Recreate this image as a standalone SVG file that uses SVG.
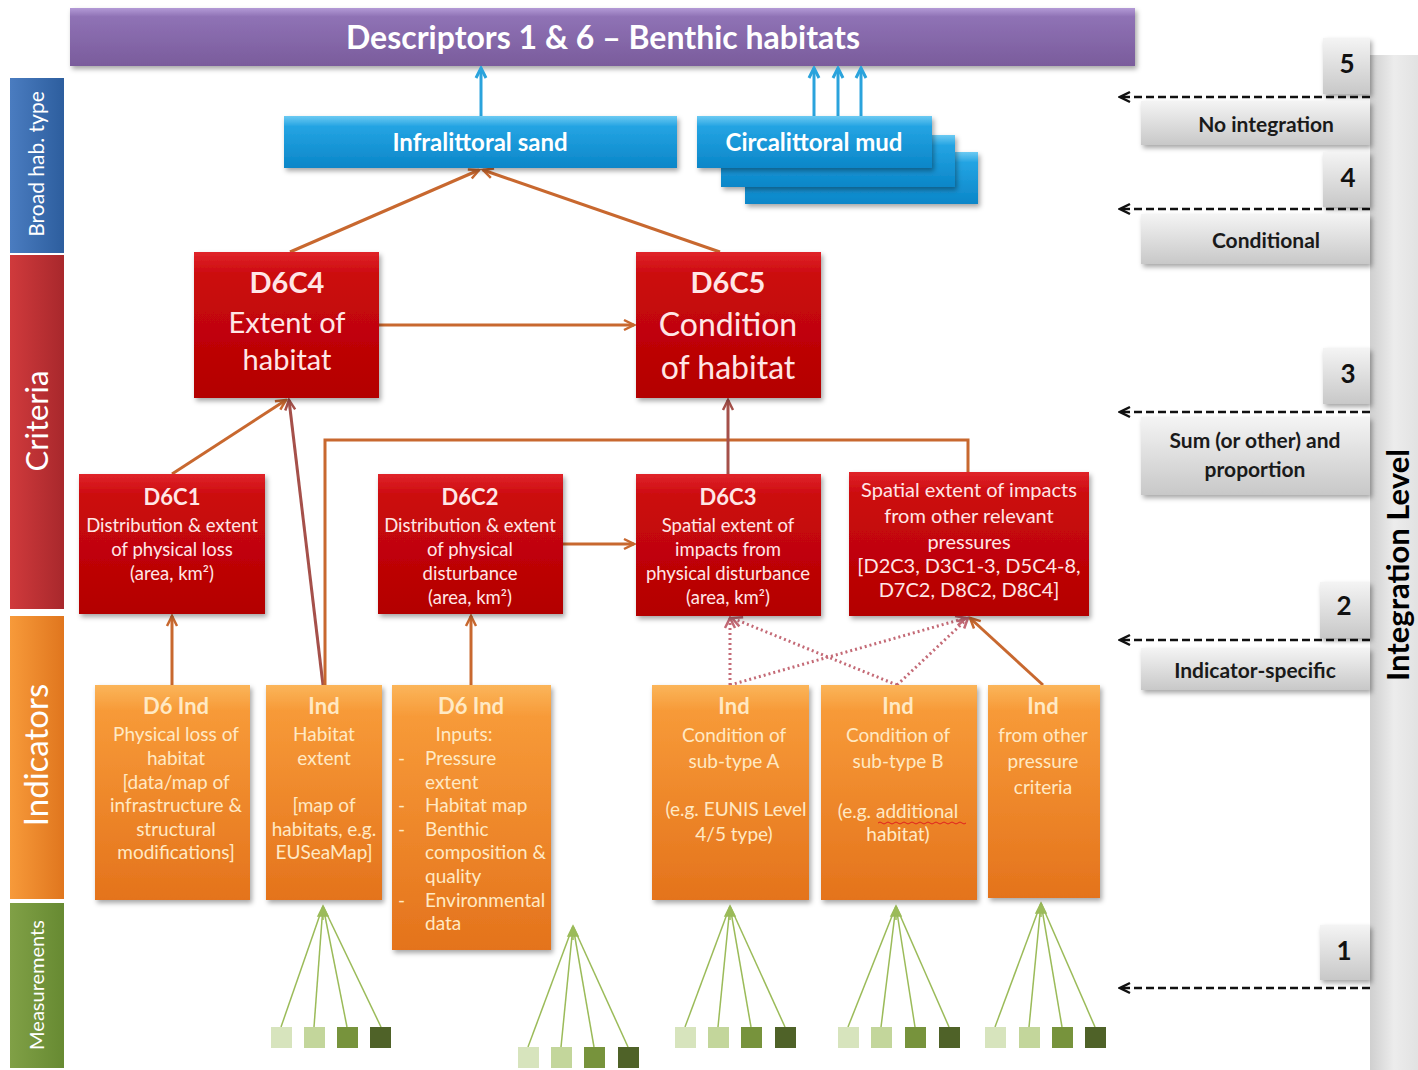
<svg xmlns="http://www.w3.org/2000/svg" width="1418" height="1070" viewBox="0 0 1418 1070">
<defs>
<style>
text{font-family:Lato,"Liberation Sans","DejaVu Sans",sans-serif}
.side{fill:#ffffff;text-anchor:middle}
.rt{fill:#ffe6e6;text-anchor:middle;font-size:18.5px}
.rt2{fill:#ffe6e6;text-anchor:middle;font-size:20px}
.rh{fill:#ffe6e6;text-anchor:middle;font-size:22px;font-weight:bold}
.ot{fill:#ffe9c4;text-anchor:middle;font-size:19px}
.oh{fill:#ffe9c4;text-anchor:middle;font-size:22px;font-weight:bold}
.ol{fill:#ffe9c4;text-anchor:start;font-size:19px}
.big{fill:#ffe6e6;text-anchor:middle;font-size:29px}
.big2{fill:#ffe6e6;text-anchor:middle;font-size:32px}
.bigh{fill:#ffe6e6;text-anchor:middle;font-size:29px;font-weight:bold}
.bt{fill:#ffffff;text-anchor:middle;font-size:24px;font-weight:bold}
.gt{fill:#1a1a1a;text-anchor:middle;font-size:21px;font-weight:bold}
.num{fill:#111;text-anchor:middle;font-size:26px;font-weight:bold}
.con{fill:none;stroke:#c8682f;stroke-width:3}
.con2{fill:none;stroke:#a5504a;stroke-width:3}
.dot{fill:none;stroke:#c46a76;stroke-width:3;stroke-dasharray:2 3}
.blue{fill:none;stroke:#2aa3dc;stroke-width:3}
.dash{fill:none;stroke:#111;stroke-width:2.5;stroke-dasharray:8 4}
.fan{fill:none;stroke:#9bbb59;stroke-width:1.5}
</style>
<linearGradient id="gPur" x1="0" y1="0" x2="0" y2="1"><stop offset="0" stop-color="#b39ad6"/><stop offset="0.15" stop-color="#8f72b5"/><stop offset="1" stop-color="#7a5c9c"/></linearGradient>
<linearGradient id="gBlue" x1="0" y1="0" x2="0" y2="1"><stop offset="0" stop-color="#6ccaf2"/><stop offset="0.2" stop-color="#24a4e3"/><stop offset="1" stop-color="#0b86c8"/></linearGradient>
<linearGradient id="gRed" x1="0" y1="0" x2="0" y2="1"><stop offset="0" stop-color="#e0242a"/><stop offset="0.15" stop-color="#cc0a0f"/><stop offset="1" stop-color="#b30000"/></linearGradient>
<linearGradient id="gOr" x1="0" y1="0" x2="0" y2="1"><stop offset="0" stop-color="#fbb55a"/><stop offset="0.12" stop-color="#f79a38"/><stop offset="1" stop-color="#e4731c"/></linearGradient>
<linearGradient id="gGray" x1="0" y1="0" x2="0" y2="1"><stop offset="0" stop-color="#f4f4f4"/><stop offset="1" stop-color="#c8c8c8"/></linearGradient>
<linearGradient id="gBar" x1="0" y1="0" x2="1" y2="0"><stop offset="0" stop-color="#cfcfcf"/><stop offset="0.5" stop-color="#ececec"/><stop offset="1" stop-color="#e2e2e2"/></linearGradient>
<linearGradient id="sBlue" x1="0" y1="0" x2="1" y2="0"><stop offset="0" stop-color="#4a7cc0"/><stop offset="1" stop-color="#2d5e9e"/></linearGradient>
<linearGradient id="sRed" x1="0" y1="0" x2="1" y2="0"><stop offset="0" stop-color="#d03a3c"/><stop offset="1" stop-color="#a8282c"/></linearGradient>
<linearGradient id="sOr" x1="0" y1="0" x2="1" y2="0"><stop offset="0" stop-color="#f79a3a"/><stop offset="1" stop-color="#e0761e"/></linearGradient>
<linearGradient id="sGr" x1="0" y1="0" x2="1" y2="0"><stop offset="0" stop-color="#80a046"/><stop offset="1" stop-color="#678a32"/></linearGradient>
<filter id="sh" x="-10%" y="-10%" width="125%" height="130%"><feDropShadow dx="2" dy="3" stdDeviation="2.5" flood-color="#000" flood-opacity="0.35"/></filter>
<marker id="aO" viewBox="0 0 14 14" refX="12" refY="7" markerWidth="14" markerHeight="14" markerUnits="userSpaceOnUse" orient="auto"><path d="M2,2 L12,7 L2,12" fill="none" stroke="#c8682f" stroke-width="2.5"/></marker>
<marker id="aB" viewBox="0 0 14 14" refX="12" refY="7" markerWidth="14" markerHeight="14" markerUnits="userSpaceOnUse" orient="auto"><path d="M2,2 L12,7 L2,12" fill="none" stroke="#a5504a" stroke-width="2.5"/></marker>
<marker id="aP" viewBox="0 0 14 14" refX="12" refY="7" markerWidth="14" markerHeight="14" markerUnits="userSpaceOnUse" orient="auto"><path d="M2,2 L12,7 L2,12" fill="none" stroke="#c46a76" stroke-width="2.5"/></marker>
<marker id="aC" viewBox="0 0 14 14" refX="12" refY="7" markerWidth="14" markerHeight="14" markerUnits="userSpaceOnUse" orient="auto"><path d="M2,2 L12,7 L2,12" fill="none" stroke="#2aa3dc" stroke-width="3"/></marker>
<marker id="aK" viewBox="0 0 14 14" refX="12" refY="7" markerWidth="14" markerHeight="14" markerUnits="userSpaceOnUse" orient="auto"><path d="M2,2 L12,7 L2,12" fill="none" stroke="#111" stroke-width="2.5"/></marker>
<marker id="aG" viewBox="0 0 14 14" refX="12" refY="7" markerWidth="14" markerHeight="14" markerUnits="userSpaceOnUse" orient="auto"><path d="M2,2 L12,7 L2,12 Z" fill="#9bbb59" stroke="#9bbb59" stroke-width="1.5"/></marker>
</defs>
<rect x="0" y="0" width="1418" height="1070" fill="#ffffff"/>

<g id="integration-bar">
<rect x="1370" y="55" width="48" height="1015" fill="url(#gBar)"/>
<text transform="translate(1409,565) rotate(-90)" style="fill:#000;text-anchor:middle;font-size:31px;font-weight:bold">Integration Level</text>
</g>

<g id="side-broad"><rect x="10" y="78" width="54" height="175" fill="url(#sBlue)"/><text class="side" transform="translate(37,164) rotate(-90)" style="font-size:21px" dy="7">Broad hab. type</text></g>
<g id="side-criteria"><rect x="10" y="255" width="54" height="354" fill="url(#sRed)"/><text class="side" transform="translate(37,421) rotate(-90)" style="font-size:31px" dy="11">Criteria</text></g>
<g id="side-indicators"><rect x="10" y="616" width="54" height="283" fill="url(#sOr)"/><text class="side" transform="translate(37,755) rotate(-90)" style="font-size:33px" dy="11">Indicators</text></g>
<g id="side-measurements"><rect x="10" y="903" width="54" height="165" fill="url(#sGr)"/><text class="side" transform="translate(37,985) rotate(-90)" style="font-size:20px" dy="7">Measurements</text></g>

<g id="title"><rect x="70" y="8" width="1065" height="58" fill="url(#gPur)" filter="url(#sh)"/><text x="603" y="49" style="fill:#fff;text-anchor:middle;font-size:32px;font-weight:bold">Descriptors 1 &amp; 6 – Benthic habitats</text></g>

<g id="connectors">
<line class="blue" x1="481" y1="116" x2="481" y2="68" marker-end="url(#aC)"/>
<line class="blue" x1="814" y1="116" x2="814" y2="68" marker-end="url(#aC)"/>
<line class="blue" x1="838" y1="116" x2="838" y2="68" marker-end="url(#aC)"/>
<line class="blue" x1="861" y1="116" x2="861" y2="68" marker-end="url(#aC)"/>
<line class="con" x1="290" y1="252" x2="479" y2="170" marker-end="url(#aO)"/>
<line class="con" x1="720" y1="252" x2="483" y2="170" marker-end="url(#aO)"/>
<line class="con" x1="379" y1="325" x2="634" y2="325" marker-end="url(#aO)"/>
<line class="con" x1="172" y1="474" x2="286" y2="400" marker-end="url(#aO)"/>
<line class="con2" x1="323" y1="685" x2="289" y2="400" marker-end="url(#aB)"/>
<polyline class="con" points="325,685 325,440 968,440 968,472"/>
<line class="con2" x1="728" y1="474" x2="728" y2="400" marker-end="url(#aB)"/>
<line class="con" x1="563" y1="544" x2="634" y2="544" marker-end="url(#aO)"/>
<line class="con" x1="172" y1="685" x2="172" y2="616" marker-end="url(#aO)"/>
<line class="con" x1="471" y1="685" x2="471" y2="616" marker-end="url(#aO)"/>
<line class="con" x1="1043" y1="685" x2="970" y2="618" marker-end="url(#aO)"/>
<line class="dot" x1="730" y1="685" x2="730" y2="618" marker-end="url(#aP)"/>
<line class="dot" x1="730" y1="685" x2="966" y2="618" marker-end="url(#aP)"/>
<line class="dot" x1="897" y1="685" x2="732" y2="618" marker-end="url(#aP)"/>
<line class="dot" x1="897" y1="685" x2="968" y2="618" marker-end="url(#aP)"/>
<line class="dash" x1="1370" y1="97" x2="1120" y2="97" marker-end="url(#aK)"/>
<line class="dash" x1="1370" y1="209" x2="1120" y2="209" marker-end="url(#aK)"/>
<line class="dash" x1="1370" y1="412" x2="1120" y2="412" marker-end="url(#aK)"/>
<line class="dash" x1="1370" y1="640" x2="1120" y2="640" marker-end="url(#aK)"/>
<line class="dash" x1="1370" y1="988" x2="1120" y2="988" marker-end="url(#aK)"/>
<g id="fan1"><line class="fan" x1="281" y1="1027" x2="323" y2="906"/><line class="fan" x1="314" y1="1027" x2="323" y2="906"/><line class="fan" x1="347" y1="1027" x2="323" y2="906"/><line class="fan" x1="381" y1="1027" x2="323" y2="906"/><line class="fan" x1="323" y1="920" x2="323" y2="906" marker-end="url(#aG)"/></g>
<g id="fan2"><line class="fan" x1="528" y1="1047" x2="573" y2="926"/><line class="fan" x1="561" y1="1047" x2="573" y2="926"/><line class="fan" x1="594" y1="1047" x2="573" y2="926"/><line class="fan" x1="628" y1="1047" x2="573" y2="926"/><line class="fan" x1="573" y1="940" x2="573" y2="926" marker-end="url(#aG)"/></g>
<g id="fan3"><line class="fan" x1="685" y1="1027" x2="730" y2="906"/><line class="fan" x1="718" y1="1027" x2="730" y2="906"/><line class="fan" x1="751" y1="1027" x2="730" y2="906"/><line class="fan" x1="785" y1="1027" x2="730" y2="906"/><line class="fan" x1="730" y1="920" x2="730" y2="906" marker-end="url(#aG)"/></g>
<g id="fan4"><line class="fan" x1="848" y1="1027" x2="896" y2="906"/><line class="fan" x1="881" y1="1027" x2="896" y2="906"/><line class="fan" x1="915" y1="1027" x2="896" y2="906"/><line class="fan" x1="949" y1="1027" x2="896" y2="906"/><line class="fan" x1="896" y1="920" x2="896" y2="906" marker-end="url(#aG)"/></g>
<g id="fan5"><line class="fan" x1="995" y1="1027" x2="1041" y2="903"/><line class="fan" x1="1029" y1="1027" x2="1041" y2="903"/><line class="fan" x1="1062" y1="1027" x2="1041" y2="903"/><line class="fan" x1="1095" y1="1027" x2="1041" y2="903"/><line class="fan" x1="1041" y1="917" x2="1041" y2="903" marker-end="url(#aG)"/></g>
</g>

<g id="infralittoral"><rect x="284" y="116" width="393" height="52" fill="url(#gBlue)" filter="url(#sh)"/><text class="bt" x="480" y="151">Infralittoral sand</text></g>
<g id="circalittoral">
<rect x="745" y="152" width="233" height="52" fill="url(#gBlue)" filter="url(#sh)"/>
<rect x="721" y="135" width="234" height="52" fill="url(#gBlue)" filter="url(#sh)"/>
<rect x="697" y="116" width="235" height="52" fill="url(#gBlue)" filter="url(#sh)"/>
<text class="bt" x="814" y="151">Circalittoral mud</text></g>

<g id="d6c4"><rect x="194" y="252" width="185" height="146" fill="url(#gRed)" filter="url(#sh)"/><text class="bigh" x="287" y="293">D6C4</text><text class="big" x="287" y="333">Extent of</text><text class="big" x="287" y="370">habitat</text></g>
<g id="d6c5"><rect x="636" y="252" width="185" height="146" fill="url(#gRed)" filter="url(#sh)"/><text class="bigh" x="728" y="293">D6C5</text><text class="big2" x="728" y="336">Condition</text><text class="big2" x="728" y="379">of habitat</text></g>
<g id="d6c1"><rect x="79" y="474" width="186" height="140" fill="url(#gRed)" filter="url(#sh)"/><text class="rh" x="172" y="505">D6C1</text><text class="rt" x="172" y="532">Distribution &amp; extent</text><text class="rt" x="172" y="556">of physical loss</text><text class="rt" x="172" y="580">(area, km²)</text></g>
<g id="d6c2"><rect x="378" y="474" width="185" height="140" fill="url(#gRed)" filter="url(#sh)"/><text class="rh" x="470" y="505">D6C2</text><text class="rt" x="470" y="532">Distribution &amp; extent</text><text class="rt" x="470" y="556">of physical</text><text class="rt" x="470" y="580">disturbance</text><text class="rt" x="470" y="604">(area, km²)</text></g>
<g id="d6c3"><rect x="636" y="474" width="185" height="142" fill="url(#gRed)" filter="url(#sh)"/><text class="rh" x="728" y="505">D6C3</text><text class="rt" x="728" y="532">Spatial extent of</text><text class="rt" x="728" y="556">impacts from</text><text class="rt" x="728" y="580">physical disturbance</text><text class="rt" x="728" y="604">(area, km²)</text></g>
<g id="other-pressures"><rect x="849" y="472" width="240" height="144" fill="url(#gRed)" filter="url(#sh)"/><text class="rt2" x="969" y="497">Spatial extent of impacts</text><text class="rt2" x="969" y="523">from other relevant</text><text class="rt2" x="969" y="549">pressures</text><text class="rt2" x="969" y="573">[D2C3, D3C1-3, D5C4-8,</text><text class="rt2" x="969" y="597">D7C2, D8C2, D8C4]</text></g>

<g id="ind-loss"><rect x="95" y="685" width="155" height="215" fill="url(#gOr)" filter="url(#sh)"/><text class="oh" x="176" y="714">D6 Ind</text><text class="ot" x="176" y="741">Physical loss of</text><text class="ot" x="176" y="765">habitat</text><text class="ot" x="176" y="789">[data/map of</text><text class="ot" x="176" y="812">infrastructure &amp;</text><text class="ot" x="176" y="836">structural</text><text class="ot" x="176" y="859">modifications]</text></g>
<g id="ind-extent"><rect x="266" y="685" width="116" height="215" fill="url(#gOr)" filter="url(#sh)"/><text class="oh" x="324" y="714">Ind</text><text class="ot" x="324" y="741">Habitat</text><text class="ot" x="324" y="765">extent</text><text class="ot" x="324" y="812">[map of</text><text class="ot" x="324" y="836">habitats, e.g.</text><text class="ot" x="324" y="859">EUSeaMap]</text></g>
<g id="ind-inputs"><rect x="392" y="685" width="159" height="265" fill="url(#gOr)" filter="url(#sh)"/><text class="oh" x="471" y="714">D6 Ind</text><text class="ot" x="464" y="741">Inputs:</text>
<text class="ol" x="398" y="765">-</text><text class="ol" x="425" y="765">Pressure</text><text class="ol" x="425" y="789">extent</text>
<text class="ol" x="398" y="812">-</text><text class="ol" x="425" y="812">Habitat map</text>
<text class="ol" x="398" y="836">-</text><text class="ol" x="425" y="836">Benthic</text><text class="ol" x="425" y="859">composition &amp;</text><text class="ol" x="425" y="883">quality</text>
<text class="ol" x="398" y="907">-</text><text class="ol" x="425" y="907">Environmental</text><text class="ol" x="425" y="930">data</text></g>
<g id="ind-cond-a"><rect x="652" y="685" width="157" height="215" fill="url(#gOr)" filter="url(#sh)"/><text class="oh" x="734" y="714">Ind</text><text class="ot" x="734" y="742">Condition of</text><text class="ot" x="734" y="768">sub-type A</text><text class="ot" x="736" y="816">(e.g. EUNIS Level</text><text class="ot" x="734" y="841">4/5 type)</text></g>
<g id="ind-cond-b"><rect x="821" y="685" width="156" height="215" fill="url(#gOr)" filter="url(#sh)"/><text class="oh" x="898" y="714">Ind</text><text class="ot" x="898" y="742">Condition of</text><text class="ot" x="898" y="768">sub-type B</text><text class="ot" x="898" y="818">(e.g. additional</text><path d="M878,823 q2,-2 4,0 t4,0 t4,0 t4,0 t4,0 t4,0 t4,0 t4,0 t4,0 t4,0 t4,0 t4,0 t4,0 t4,0 t4,0 t4,0 t4,0 t4,0 t4,0 t4,0 t4,0 t4,0" fill="none" stroke="#e02020" stroke-width="1"/><text class="ot" x="898" y="841">habitat)</text></g>
<g id="ind-other"><rect x="988" y="685" width="112" height="213" fill="url(#gOr)" filter="url(#sh)"/><text class="oh" x="1043" y="714">Ind</text><text class="ot" x="1043" y="742">from other</text><text class="ot" x="1043" y="768">pressure</text><text class="ot" x="1043" y="794">criteria</text></g>

<g id="measures">
<g id="m1"><rect x="271" y="1027" width="21" height="21" fill="#d7e4bd"/><rect x="304" y="1027" width="21" height="21" fill="#c3d69b"/><rect x="337" y="1027" width="21" height="21" fill="#77933c"/><rect x="370" y="1027" width="21" height="21" fill="#4f6228"/></g>
<g id="m2"><rect x="518" y="1047" width="21" height="21" fill="#d7e4bd"/><rect x="551" y="1047" width="21" height="21" fill="#c3d69b"/><rect x="584" y="1047" width="21" height="21" fill="#77933c"/><rect x="618" y="1047" width="21" height="21" fill="#4f6228"/></g>
<g id="m3"><rect x="675" y="1027" width="21" height="21" fill="#d7e4bd"/><rect x="708" y="1027" width="21" height="21" fill="#c3d69b"/><rect x="741" y="1027" width="21" height="21" fill="#77933c"/><rect x="775" y="1027" width="21" height="21" fill="#4f6228"/></g>
<g id="m4"><rect x="838" y="1027" width="21" height="21" fill="#d7e4bd"/><rect x="871" y="1027" width="21" height="21" fill="#c3d69b"/><rect x="905" y="1027" width="21" height="21" fill="#77933c"/><rect x="939" y="1027" width="21" height="21" fill="#4f6228"/></g>
<g id="m5"><rect x="985" y="1027" width="21" height="21" fill="#d7e4bd"/><rect x="1019" y="1027" width="21" height="21" fill="#c3d69b"/><rect x="1052" y="1027" width="21" height="21" fill="#77933c"/><rect x="1085" y="1027" width="21" height="21" fill="#4f6228"/></g>
</g>

<g id="lvl5"><rect x="1323" y="38" width="47" height="56" fill="url(#gGray)" filter="url(#sh)"/><text class="num" x="1347" y="73">5</text></g>
<g id="lbl-no-integration"><rect x="1141" y="101" width="229" height="44" fill="url(#gGray)" filter="url(#sh)"/><text class="gt" x="1266" y="132">No integration</text></g>
<g id="lvl4"><rect x="1323" y="152" width="47" height="55" fill="url(#gGray)" filter="url(#sh)"/><text class="num" x="1348" y="187">4</text></g>
<g id="lbl-conditional"><rect x="1141" y="214" width="229" height="50" fill="url(#gGray)" filter="url(#sh)"/><text class="gt" x="1266" y="248">Conditional</text></g>
<g id="lvl3"><rect x="1323" y="348" width="47" height="56" fill="url(#gGray)" filter="url(#sh)"/><text class="num" x="1348" y="383">3</text></g>
<g id="lbl-sum"><rect x="1141" y="417" width="229" height="78" fill="url(#gGray)" filter="url(#sh)"/><text class="gt" x="1255" y="448">Sum (or other) and</text><text class="gt" x="1255" y="477">proportion</text></g>
<g id="lvl2"><rect x="1320" y="582" width="50" height="56" fill="url(#gGray)" filter="url(#sh)"/><text class="num" x="1344" y="615">2</text></g>
<g id="lbl-indicator"><rect x="1141" y="648" width="229" height="42" fill="url(#gGray)" filter="url(#sh)"/><text class="gt" x="1255" y="678">Indicator-specific</text></g>
<g id="lvl1"><rect x="1320" y="925" width="50" height="55" fill="url(#gGray)" filter="url(#sh)"/><text class="num" x="1344" y="960">1</text></g>
</svg>
